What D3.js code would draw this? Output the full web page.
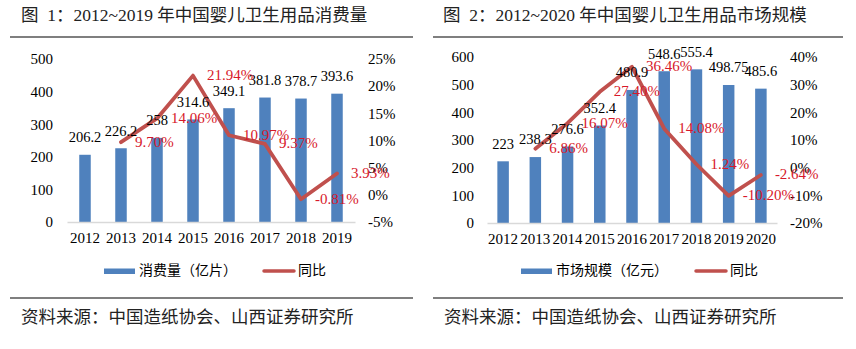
<!DOCTYPE html>
<html>
<head>
<meta charset="utf-8">
<script src="https://cdn.jsdelivr.net/npm/d3@7"></script>
<style>
  body { margin: 0; background: #fff; }
  svg { display: block; }
</style>
</head>
<body>
<svg width="856" height="349"></svg>
<script>
// two combo charts: bars (left axis) + yoy line (right axis)

const years1 = ["2012", "2013", "2014", "2015", "2016", "2017", "2018", "2019"];
const consumption = [206.2, 226.2, 258, 314.6, 349.1, 381.8, 378.7, 393.6];
const consumptionYoY = [null, 9.70, 14.06, 21.94, 10.97, 9.37, -0.81, 3.93];
const leftTicks1 = [0, 100, 200, 300, 400, 500];
const rightTicks1 = [-5, 0, 5, 10, 15, 20, 25];

const years2 = ["2012", "2013", "2014", "2015", "2016", "2017", "2018", "2019", "2020"];
const marketSize = [223, 238.3, 276.6, 352.4, 480.9, 548.6, 555.4, 498.75, 485.6];
const marketYoY = [null, 6.86, 16.07, 27.40, 36.46, 14.08, 1.24, -10.20, -2.64];
const leftTicks2 = [0, 100, 200, 300, 400, 500, 600];
const rightTicks2 = [-20, -10, 0, 10, 20, 30, 40];

const barColor = "#4f81bd",
    lineColor = "#c0504d",
    pctColor = "#d7182a",
    serif = "'Liberation Serif', 'Times New Roman', serif",
    cjk = "'Noto Sans CJK SC', sans-serif";

const svg = d3.select("svg");

function drawChart(c) {
  const g = svg.append("g");

  // title + rules
  g.append("text")
      .attr("x", c.titleX).attr("y", 17)
      .attr("dominant-baseline", "middle")
      .attr("font-family", serif + ", " + cjk)
      .attr("font-size", 17.5)
      .attr("fill", "#222")
      .style("white-space", "pre")
      .text(c.title);
  g.append("line")
      .attr("x1", c.ruleX[0]).attr("x2", c.ruleX[1])
      .attr("y1", 37).attr("y2", 37)
      .attr("stroke", "#000").attr("stroke-width", 1.2);
  g.append("line")
      .attr("x1", c.ruleX[0]).attr("x2", c.ruleX[1])
      .attr("y1", 298).attr("y2", 298)
      .attr("stroke", "#000").attr("stroke-width", 1.2);
  g.append("text")
      .attr("x", c.ruleX[0] + 11).attr("y", 318)
      .attr("dominant-baseline", "middle")
      .attr("font-family", cjk)
      .attr("font-size", 17.5)
      .attr("fill", "#222")
      .text("资料来源：中国造纸协会、山西证券研究所");

  const x = d3.scaleBand()
      .domain(c.years)
      .range([c.left, c.right])
      .padding(0);
  const y = d3.scaleLinear()
      .domain([0, d3.max(c.leftTicks)])
      .range([c.bottom, c.top]);
  const y2 = d3.scaleLinear()
      .domain(d3.extent(c.rightTicks))
      .range([c.bottom, c.top]);

  const barW = 11.5;

  // left axis
  const la = g.append("g")
      .attr("transform", "translate(" + c.leftLabelX + ",0)")
      .call(d3.axisLeft(y).tickValues(c.leftTicks).tickSize(0).tickPadding(0));
  la.select(".domain").remove();
  la.selectAll("text")
      .attr("font-family", serif).attr("font-size", 15).attr("fill", "#000");

  // right axis
  const ra = g.append("g")
      .attr("transform", "translate(" + c.rightLabelX + ",0)")
      .call(d3.axisRight(y2).tickValues(c.rightTicks).tickSize(0).tickPadding(0)
        .tickFormat(function(d) { return d + "%"; }));
  ra.select(".domain").remove();
  ra.selectAll("text")
      .attr("font-family", serif).attr("font-size", 15).attr("fill", "#000");

  // bars
  g.append("g")
    .selectAll("rect")
    .data(c.values)
    .enter().append("rect")
      .attr("x", function(d, i) { return x(c.years[i]) + x.bandwidth() / 2 - barW / 2; })
      .attr("y", function(d) { return y(d); })
      .attr("width", barW)
      .attr("height", function(d) { return y(0) - y(d); })
      .attr("fill", barColor);

  // category axis
  const xa = g.append("g")
      .attr("transform", "translate(0," + y(0) + ")")
      .call(d3.axisBottom(x).tickSize(0).tickPadding(10));
  xa.select(".domain").attr("stroke", "#d9d9d9").attr("stroke-width", 1.5);
  xa.selectAll("text")
      .attr("font-family", serif).attr("font-size", 15).attr("fill", "#000");

  // yoy line
  const pts = c.yoy.map(function(v, i) { return {year: c.years[i], v: v}; })
      .filter(function(d) { return d.v !== null; });
  const line = d3.line()
      .x(function(d) { return x(d.year) + x.bandwidth() / 2; })
      .y(function(d) { return y2(d.v); });
  g.append("path")
      .datum(pts)
      .attr("d", line)
      .attr("fill", "none")
      .attr("stroke", lineColor)
      .attr("stroke-width", 3.8)
      .attr("stroke-linejoin", "round")
      .attr("stroke-linecap", "round");

  // bar labels
  g.append("g")
    .selectAll("text")
    .data(c.values)
    .enter().append("text")
      .attr("x", function(d, i) { return x(c.years[i]) + x.bandwidth() / 2; })
      .attr("y", function(d) { return y(d) - 16; })
      .attr("text-anchor", "middle")
      .attr("dominant-baseline", "middle")
      .attr("font-family", serif).attr("font-size", 14.5).attr("fill", "#000")
      .text(function(d) { return String(d); });

  // pct labels
  g.append("g")
    .selectAll("text")
    .data(pts)
    .enter().append("text")
      .attr("x", function(d) { return x(d.year) + x.bandwidth() / 2 + 14; })
      .attr("y", function(d) { return y2(d.v) + 1; })
      .attr("dominant-baseline", "middle")
      .attr("font-family", serif).attr("font-size", 15).attr("fill", pctColor)
      .text(function(d) { return d.v.toFixed(2) + "%"; });

  // legend
  const lg = g.append("g").attr("font-family", cjk).attr("font-size", 14).attr("fill", "#000");
  lg.append("rect")
      .attr("x", c.legend[0]).attr("y", 268.5)
      .attr("width", 31).attr("height", 5.5)
      .attr("fill", barColor);
  lg.append("text")
      .attr("x", c.legend[0] + 35).attr("y", 271.5)
      .attr("dominant-baseline", "middle")
      .text(c.barName);
  lg.append("line")
      .attr("x1", c.legend[1] + 2).attr("x2", c.legend[1] + 32)
      .attr("y1", 271).attr("y2", 271)
      .attr("stroke", lineColor).attr("stroke-width", 3.5)
      .attr("stroke-linecap", "round");
  lg.append("text")
      .attr("x", c.legend[1] + 36).attr("y", 271.5)
      .attr("dominant-baseline", "middle")
      .text("同比");
}

drawChart({
  title: "图\u00a0\u00a01：2012~2019 年中国婴儿卫生用品消费量",
  titleX: 21, ruleX: [10, 413],
  years: years1, values: consumption, yoy: consumptionYoY,
  leftTicks: leftTicks1, rightTicks: rightTicks1,
  left: 67, right: 355, top: 59, bottom: 222,
  leftLabelX: 53, rightLabelX: 368,
  barName: "消费量（亿片）",
  legend: [104, 262]
});

drawChart({
  title: "图\u00a0\u00a02：2012~2020 年中国婴儿卫生用品市场规模",
  titleX: 443, ruleX: [433, 843],
  years: years2, values: marketSize, yoy: marketYoY,
  leftTicks: leftTicks2, rightTicks: rightTicks2,
  left: 487, right: 777, top: 57, bottom: 223,
  leftLabelX: 474, rightLabelX: 790,
  barName: "市场规模（亿元）",
  legend: [521, 694]
});
</script>
</body>
</html>
